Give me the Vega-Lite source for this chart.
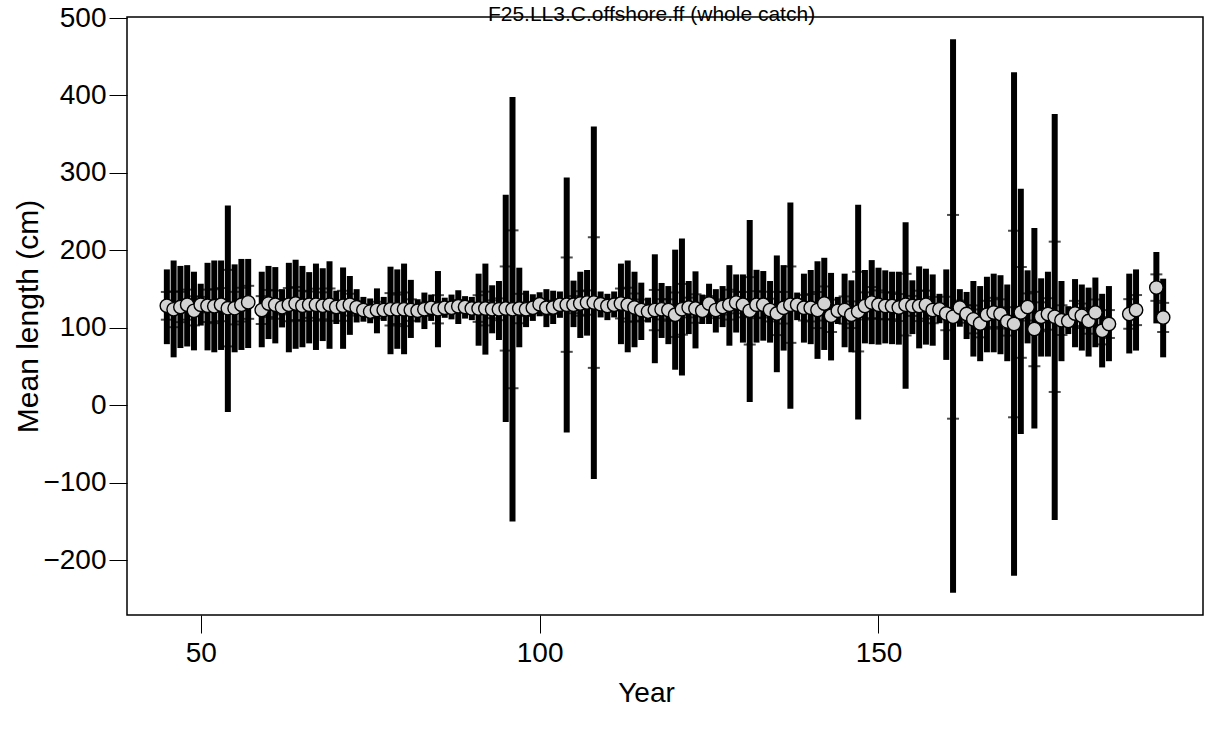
{
  "$schema": "https://vega.github.io/schema/vega-lite/v6.json",
  "autosize": "none",
  "width": 1076,
  "height": 598,
  "padding": {"left": 127, "top": 17, "right": 2, "bottom": 117},
  "background": "white",
  "data": {"values": [
    {"yr":45,"m":128.5,"lo":79,"hi":175.5,"tlo":110.6,"thi":146.4},
    {"yr":46,"m":124,"lo":62,"hi":187,"tlo":100.9,"thi":147.1},
    {"yr":47,"m":127,"lo":74,"hi":180,"tlo":107.4,"thi":146.6},
    {"yr":48,"m":130,"lo":76,"hi":181,"tlo":110.6,"thi":149.4},
    {"yr":49,"m":122,"lo":71,"hi":172.5,"tlo":103.2,"thi":140.8},
    {"yr":50,"m":130,"lo":103,"hi":157,"tlo":120,"thi":140},
    {"yr":51,"m":128.5,"lo":71,"hi":184,"tlo":107.6,"thi":149.4},
    {"yr":52,"m":128,"lo":68.5,"hi":187,"tlo":106.1,"thi":149.9},
    {"yr":53,"m":130,"lo":71.5,"hi":187,"tlo":108.6,"thi":151.4},
    {"yr":54,"m":125.5,"lo":-8.6,"hi":258,"tlo":76.1,"thi":174.9},
    {"yr":55,"m":125.5,"lo":68.5,"hi":182,"tlo":104.5,"thi":146.5},
    {"yr":56,"m":130,"lo":71.5,"hi":189,"tlo":108.2,"thi":151.8},
    {"yr":57,"m":133,"lo":74,"hi":189,"tlo":111.7,"thi":154.3},
    {"yr":59,"m":123,"lo":75,"hi":172.5,"tlo":105,"thi":141},
    {"yr":60,"m":131.5,"lo":85.6,"hi":180,"tlo":114,"thi":149},
    {"yr":61,"m":130,"lo":80,"hi":178.5,"tlo":111.8,"thi":148.2},
    {"yr":62,"m":126.5,"lo":100.6,"hi":150,"tlo":117.4,"thi":135.6},
    {"yr":63,"m":130,"lo":68.5,"hi":184,"tlo":108.6,"thi":151.4},
    {"yr":64,"m":131.5,"lo":73,"hi":188,"tlo":110.2,"thi":152.8},
    {"yr":65,"m":128.5,"lo":75,"hi":180,"tlo":109.1,"thi":147.9},
    {"yr":66,"m":130,"lo":80,"hi":172,"tlo":113,"thi":147},
    {"yr":67,"m":130,"lo":71.5,"hi":183,"tlo":109.4,"thi":150.6},
    {"yr":68,"m":128.5,"lo":83,"hi":177,"tlo":111.1,"thi":145.9},
    {"yr":69,"m":130,"lo":73,"hi":186,"tlo":109.1,"thi":150.9},
    {"yr":70,"m":127,"lo":105,"hi":148,"tlo":119,"thi":135},
    {"yr":71,"m":128.5,"lo":73,"hi":178,"tlo":109.1,"thi":147.9},
    {"yr":72,"m":130,"lo":91,"hi":167,"tlo":115.9,"thi":144.1},
    {"yr":73,"m":126.5,"lo":107,"hi":150,"tlo":118.5,"thi":134.5},
    {"yr":74,"m":123,"lo":108,"hi":140,"tlo":117.1,"thi":128.9},
    {"yr":75,"m":121,"lo":106,"hi":138,"tlo":115.1,"thi":126.9},
    {"yr":76,"m":123,"lo":93,"hi":151,"tlo":112.3,"thi":133.7},
    {"yr":77,"m":123,"lo":109,"hi":140,"tlo":117.3,"thi":128.7},
    {"yr":78,"m":124,"lo":66,"hi":179,"tlo":103.1,"thi":144.9},
    {"yr":79,"m":124,"lo":73,"hi":175.5,"tlo":105,"thi":143},
    {"yr":80,"m":124,"lo":66,"hi":183,"tlo":102.3,"thi":145.7},
    {"yr":81,"m":123,"lo":87,"hi":162,"tlo":109.1,"thi":136.9},
    {"yr":82,"m":122,"lo":107,"hi":137,"tlo":116.4,"thi":127.6},
    {"yr":83,"m":124,"lo":98.5,"hi":145.6,"tlo":115.3,"thi":132.7},
    {"yr":84,"m":126,"lo":109,"hi":143,"tlo":119.7,"thi":132.3},
    {"yr":85,"m":124,"lo":75,"hi":173.4,"tlo":105.8,"thi":142.2},
    {"yr":86,"m":126,"lo":113,"hi":139,"tlo":121.2,"thi":130.8},
    {"yr":87,"m":126,"lo":111,"hi":143,"tlo":120.1,"thi":131.9},
    {"yr":88,"m":128,"lo":105,"hi":148.6,"tlo":119.9,"thi":136.1},
    {"yr":89,"m":127,"lo":112,"hi":141,"tlo":121.6,"thi":132.4},
    {"yr":90,"m":125,"lo":110,"hi":140,"tlo":119.4,"thi":130.6},
    {"yr":91,"m":125,"lo":77,"hi":170,"tlo":107.8,"thi":142.2},
    {"yr":92,"m":125,"lo":65.5,"hi":183,"tlo":103.2,"thi":146.8},
    {"yr":93,"m":124,"lo":93,"hi":155,"tlo":112.5,"thi":135.5},
    {"yr":94,"m":124,"lo":84.4,"hi":160.5,"tlo":109.9,"thi":138.1},
    {"yr":95,"m":125,"lo":-21.4,"hi":272,"tlo":70.7,"thi":179.3},
    {"yr":96,"m":124,"lo":-150,"hi":398,"tlo":22.1,"thi":225.9},
    {"yr":97,"m":125,"lo":75,"hi":177.7,"tlo":106,"thi":144},
    {"yr":98,"m":124,"lo":101,"hi":148,"tlo":115.3,"thi":132.7},
    {"yr":99,"m":126,"lo":109,"hi":143.4,"tlo":119.6,"thi":132.4},
    {"yr":100,"m":130.5,"lo":115,"hi":146,"tlo":124.8,"thi":136.2},
    {"yr":101,"m":126,"lo":101,"hi":150,"tlo":116.9,"thi":135.1},
    {"yr":102,"m":126.3,"lo":105,"hi":148,"tlo":118.3,"thi":134.3},
    {"yr":103,"m":130,"lo":113,"hi":147,"tlo":123.7,"thi":136.3},
    {"yr":104,"m":130,"lo":-35,"hi":294,"tlo":69.1,"thi":190.9},
    {"yr":105,"m":130,"lo":101,"hi":161,"tlo":118.9,"thi":141.1},
    {"yr":106,"m":131.5,"lo":87,"hi":172.5,"tlo":115.7,"thi":147.3},
    {"yr":107,"m":132.7,"lo":90,"hi":174.7,"tlo":117,"thi":148.4},
    {"yr":108,"m":132.7,"lo":-95,"hi":360,"tlo":48.4,"thi":217},
    {"yr":109,"m":130.6,"lo":113.5,"hi":147,"tlo":124.4,"thi":136.8},
    {"yr":110,"m":128.4,"lo":110,"hi":144,"tlo":122.1,"thi":134.7},
    {"yr":111,"m":130,"lo":113.5,"hi":147,"tlo":123.8,"thi":136.2},
    {"yr":112,"m":131.5,"lo":79,"hi":183,"tlo":112.2,"thi":150.8},
    {"yr":113,"m":130,"lo":68.5,"hi":187,"tlo":108.1,"thi":151.9},
    {"yr":114,"m":126.3,"lo":75,"hi":172.5,"tlo":108.2,"thi":144.4},
    {"yr":115,"m":123,"lo":84.4,"hi":158.4,"tlo":109.3,"thi":136.7},
    {"yr":116,"m":121,"lo":107,"hi":139,"tlo":115.1,"thi":126.9},
    {"yr":117,"m":123,"lo":54.4,"hi":195,"tlo":97,"thi":149},
    {"yr":118,"m":124,"lo":87,"hi":158,"tlo":110.9,"thi":137.1},
    {"yr":119,"m":123,"lo":79,"hi":154,"tlo":109.1,"thi":136.9},
    {"yr":120,"m":117,"lo":46,"hi":201,"tlo":88.3,"thi":145.7},
    {"yr":121,"m":124,"lo":38.5,"hi":215.4,"tlo":91.2,"thi":156.8},
    {"yr":122,"m":126.3,"lo":92,"hi":160.5,"tlo":113.6,"thi":139},
    {"yr":123,"m":125,"lo":73.5,"hi":173,"tlo":106.6,"thi":143.4},
    {"yr":124,"m":122,"lo":105,"hi":143,"tlo":115,"thi":129},
    {"yr":125,"m":131.5,"lo":105,"hi":157,"tlo":121.9,"thi":141.1},
    {"yr":126,"m":123,"lo":94,"hi":150,"tlo":112.6,"thi":133.4},
    {"yr":127,"m":127,"lo":101,"hi":154,"tlo":117.2,"thi":136.8},
    {"yr":128,"m":130,"lo":77,"hi":181,"tlo":110.7,"thi":149.3},
    {"yr":129,"m":132.7,"lo":94,"hi":169,"tlo":118.8,"thi":146.6},
    {"yr":130,"m":130,"lo":81,"hi":169,"tlo":113.7,"thi":146.3},
    {"yr":131,"m":122,"lo":4.3,"hi":239.3,"tlo":78.5,"thi":165.5},
    {"yr":132,"m":130,"lo":81,"hi":175,"tlo":112.6,"thi":147.4},
    {"yr":133,"m":130,"lo":83.5,"hi":173.4,"tlo":113.4,"thi":146.6},
    {"yr":134,"m":123,"lo":81,"hi":160.5,"tlo":108.3,"thi":137.7},
    {"yr":135,"m":118.6,"lo":42.8,"hi":193.5,"tlo":90.7,"thi":146.5},
    {"yr":136,"m":126,"lo":70.7,"hi":181,"tlo":105.6,"thi":146.4},
    {"yr":137,"m":130,"lo":-4.3,"hi":262,"tlo":80.7,"thi":179.3},
    {"yr":138,"m":130,"lo":110,"hi":145.6,"tlo":123.4,"thi":136.6},
    {"yr":139,"m":126,"lo":81,"hi":170,"tlo":109.5,"thi":142.5},
    {"yr":140,"m":126,"lo":79,"hi":174.7,"tlo":108.3,"thi":143.7},
    {"yr":141,"m":123,"lo":60,"hi":186,"tlo":99.7,"thi":146.3},
    {"yr":142,"m":131.5,"lo":71.5,"hi":190.5,"tlo":109.5,"thi":153.5},
    {"yr":143,"m":115.6,"lo":58,"hi":171,"tlo":94.7,"thi":136.5},
    {"yr":144,"m":122,"lo":105,"hi":140,"tlo":115.5,"thi":128.5},
    {"yr":145,"m":123,"lo":75,"hi":170,"tlo":105.4,"thi":140.6},
    {"yr":146,"m":117,"lo":68.5,"hi":161.4,"tlo":99.8,"thi":134.2},
    {"yr":147,"m":121,"lo":-18.4,"hi":259,"tlo":69.6,"thi":172.4},
    {"yr":148,"m":128.4,"lo":80,"hi":174.7,"tlo":110.9,"thi":145.9},
    {"yr":149,"m":132.7,"lo":79,"hi":187.5,"tlo":112.6,"thi":152.8},
    {"yr":150,"m":130,"lo":78.4,"hi":177.7,"tlo":111.6,"thi":148.4},
    {"yr":151,"m":128.4,"lo":80,"hi":174.3,"tlo":110.9,"thi":145.9},
    {"yr":152,"m":128.4,"lo":79,"hi":172.5,"tlo":111.1,"thi":145.7},
    {"yr":153,"m":126.3,"lo":78.4,"hi":172.5,"tlo":108.9,"thi":143.7},
    {"yr":154,"m":130,"lo":21.4,"hi":236.3,"tlo":90.2,"thi":169.8},
    {"yr":155,"m":128.4,"lo":92,"hi":161.4,"tlo":115.5,"thi":141.3},
    {"yr":156,"m":128.4,"lo":73.6,"hi":179.4,"tlo":108.8,"thi":148},
    {"yr":157,"m":130,"lo":78.4,"hi":176.4,"tlo":111.9,"thi":148.1},
    {"yr":158,"m":123,"lo":77,"hi":169,"tlo":106,"thi":140},
    {"yr":159,"m":124,"lo":106,"hi":144,"tlo":117,"thi":131},
    {"yr":160,"m":118.6,"lo":58.7,"hi":175.5,"tlo":97,"thi":140.2},
    {"yr":161,"m":114.3,"lo":-242,"hi":472.7,"tlo":-17.2,"thi":245.8},
    {"yr":162,"m":126.3,"lo":101.5,"hi":150,"tlo":117.3,"thi":135.3},
    {"yr":163,"m":118,"lo":85.6,"hi":146.4,"tlo":106.7,"thi":129.3},
    {"yr":164,"m":111,"lo":63,"hi":160.5,"tlo":93,"thi":129},
    {"yr":165,"m":105.8,"lo":57,"hi":154,"tlo":87.8,"thi":123.8},
    {"yr":166,"m":117,"lo":68.5,"hi":166,"tlo":99,"thi":135},
    {"yr":167,"m":120,"lo":68.5,"hi":170,"tlo":101.2,"thi":138.8},
    {"yr":168,"m":118,"lo":66,"hi":168,"tlo":99.1,"thi":136.9},
    {"yr":169,"m":108.4,"lo":57,"hi":156,"tlo":90.1,"thi":126.7},
    {"yr":170,"m":105,"lo":-220,"hi":430,"tlo":-15.4,"thi":225.4},
    {"yr":171,"m":120,"lo":-37,"hi":279.6,"tlo":61.4,"thi":178.6},
    {"yr":172,"m":127,"lo":80,"hi":174.3,"tlo":109.5,"thi":144.5},
    {"yr":173,"m":98.5,"lo":-30,"hi":229,"tlo":50.5,"thi":146.5},
    {"yr":174,"m":114.3,"lo":63,"hi":164,"tlo":95.6,"thi":133},
    {"yr":175,"m":118,"lo":63,"hi":172.5,"tlo":97.7,"thi":138.3},
    {"yr":176,"m":114.3,"lo":-148,"hi":376,"tlo":17.3,"thi":211.3},
    {"yr":177,"m":110,"lo":57,"hi":160.5,"tlo":90.8,"thi":129.2},
    {"yr":178,"m":109,"lo":92,"hi":128,"tlo":102.3,"thi":115.7},
    {"yr":179,"m":118.6,"lo":75,"hi":163,"tlo":102.3,"thi":134.9},
    {"yr":180,"m":115.6,"lo":70.7,"hi":156,"tlo":99.8,"thi":131.4},
    {"yr":181,"m":109,"lo":63,"hi":152,"tlo":92.5,"thi":125.5},
    {"yr":182,"m":120,"lo":75,"hi":165,"tlo":103.3,"thi":136.7},
    {"yr":183,"m":96.3,"lo":49,"hi":144,"tlo":78.7,"thi":113.9},
    {"yr":184,"m":105,"lo":57,"hi":154,"tlo":87,"thi":123},
    {"yr":187,"m":118,"lo":67,"hi":170,"tlo":98.9,"thi":137.1},
    {"yr":188,"m":123,"lo":70.7,"hi":175.5,"tlo":103.6,"thi":142.4},
    {"yr":191,"m":152,"lo":105.8,"hi":198,"tlo":134.9,"thi":169.1},
    {"yr":192,"m":113.5,"lo":62,"hi":163.5,"tlo":94.7,"thi":132.3}
  ]},
  "layer": [
    {"mark": {"type": "rule", "color": "black", "strokeWidth": 6},
     "encoding": {
      "x": {"field": "yr", "type": "quantitative",
        "scale": {"domain": [39.12, 197.88], "nice": false, "zero": false},
        "axis": {"orient": "bottom", "title": "Year", "values": [50, 100, 150], "titleX": 519, "titleY": 78, "titleBaseline": "middle", "labelPadding": 6}},
      "y": {"field": "lo", "type": "quantitative",
        "scale": {"domain": [-270.6, 501.3], "nice": false, "zero": false},
        "axis": {"title": "Mean length (cm)", "values": [-200, -100, 0, 100, 200, 300, 400, 500], "titleX": -99, "titleY": 299, "titleAngle": -90, "titleBaseline": "middle", "titleFontSize": 30, "labelPadding": 3}},
      "y2": {"field": "hi"}}},
    {"mark": {"type": "tick", "color": "black", "orient": "horizontal", "size": 12, "thickness": 2},
     "encoding": {"x": {"field": "yr", "type": "quantitative", "axis": null}, "y": {"field": "tlo", "type": "quantitative"}}},
    {"mark": {"type": "tick", "color": "black", "orient": "horizontal", "size": 12, "thickness": 2},
     "encoding": {"x": {"field": "yr", "type": "quantitative", "axis": null}, "y": {"field": "thi", "type": "quantitative"}}},
    {"mark": {"type": "point", "shape": "circle", "filled": false, "fill": "#d3d3d3", "fillOpacity": 1, "stroke": "black", "strokeWidth": 1.4, "opacity": 1, "size": 180},
     "encoding": {
      "x": {"field": "yr", "type": "quantitative",
        "axis": {"orient": "top", "title": "F25.LL3.C.offshore.ff (whole catch)", "labels": false, "ticks": false, "domain": false, "values": [], "titleX": 524, "titleY": 3, "titleBaseline": "alphabetic", "titleFontSize": 21}},
      "y": {"field": "m", "type": "quantitative"}}}
  ],
  "resolve": {"axis": {"x": "independent"}},
  "config": {
    "font": "Liberation Sans",
    "view": {"stroke": "black", "strokeWidth": 1.5},
    "axis": {"domain": false, "grid": false, "ticks": true, "tickColor": "black", "tickSize": 18, "tickWidth": 1,
      "labelFont": "Liberation Sans", "labelFontSize": 28, "labelColor": "black",
      "titleFont": "Liberation Sans", "titleFontSize": 28, "titleFontWeight": "normal", "titleColor": "black"},
    "axisY": {"labelAlign": "right", "labelBaseline": "middle"}
  }
}
